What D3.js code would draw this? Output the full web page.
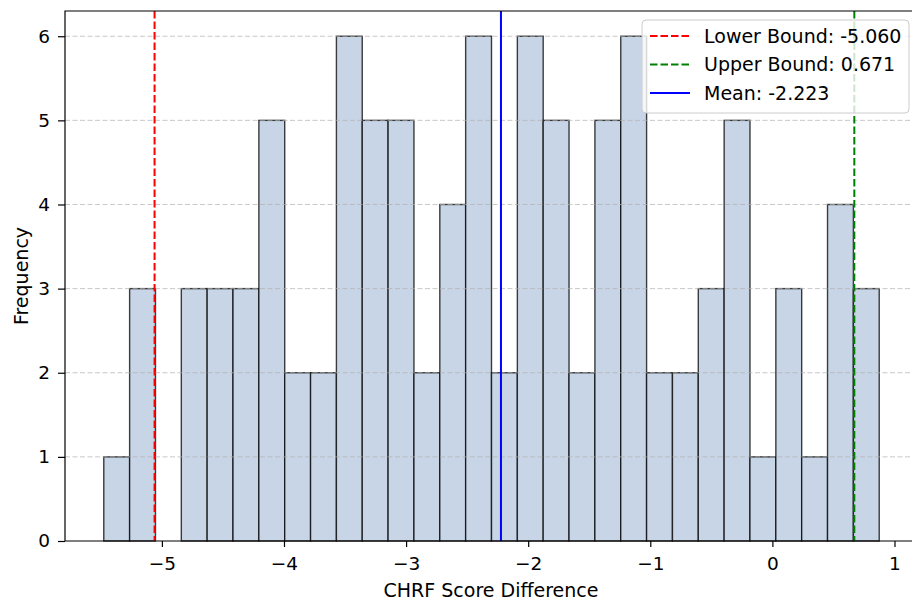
<!DOCTYPE html>
<html>
<head>
<meta charset="utf-8">
<script src="https://cdn.jsdelivr.net/npm/d3@7"></script>
<style>
  body { margin: 0; background: #fff; }
  svg { display: block; font-family: "DejaVu Sans", sans-serif; }
</style>
</head>
<body>
<svg id="chart" width="912" height="601"></svg>
<script>
// histogram of CHRF score differences, 30 bins
let binStart = -5.476;
let binWidth = 0.2117;
let counts = [1, 3, 0, 3, 3, 3, 5, 2, 2, 6, 5, 5, 2, 4, 6, 2, 6, 5, 2, 5, 6, 2, 2, 3, 5, 1, 3, 1, 4, 3];
let xTicks = [-5, -4, -3, -2, -1, 0, 1];
let yTicks = [0, 1, 2, 3, 4, 5, 6];
let refNames = ["Lower Bound: -5.060", "Upper Bound: 0.671", "Mean: -2.223"];
let refValues = [-5.060, 0.671, -2.223];
let refColors = ["red", "green", "blue"];
let refDashed = [true, true, false];

function drawHistogram() {
    let svg = d3.select("#chart");
    let left = 65, top = 11, right = 918, bottom = 541;
    let fontSize = 18.5;

    let bins = counts.map(function (c, i) {
        return {x0: binStart + i * binWidth, x1: binStart + (i + 1) * binWidth, n: c};
    });
    let lo = bins[0].x0, hi = bins[bins.length - 1].x1;
    let pad = (hi - lo) * 0.05;
    let x = d3.scaleLinear().domain([lo - pad, hi + pad]).range([left, right]);
    let y = d3.scaleLinear().domain([0, 6.3]).range([bottom, top]);

    let plot = svg.append("g");

    plot.selectAll("rect.bar").data(bins.filter(d => d.n > 0))
        .enter().append("rect")
        .attr("class", "bar")
        .attr("x", d => x(d.x0))
        .attr("y", d => y(d.n))
        .attr("width", d => x(d.x1) - x(d.x0))
        .attr("height", d => y(0) - y(d.n))
        .attr("fill", "#c8d5e7")
        .attr("stroke", "#000")
        .attr("stroke-opacity", 0.75)
        .attr("stroke-width", 1.4);

    // y grid, dashed, on top of bars
    plot.selectAll("line.grid").data(yTicks.slice(1))
        .enter().append("line")
        .attr("class", "grid")
        .attr("x1", left).attr("x2", right)
        .attr("y1", d => y(d)).attr("y2", d => y(d))
        .attr("stroke", "#b0b0b0")
        .attr("stroke-opacity", 0.7)
        .attr("stroke-width", 1)
        .attr("stroke-dasharray", "5,2.5");

    // reference lines
    refValues.forEach(function (v, i) {
        plot.append("line")
            .attr("x1", x(v)).attr("x2", x(v))
            .attr("y1", top).attr("y2", bottom)
            .attr("stroke", refColors[i])
            .attr("stroke-width", 2)
            .attr("stroke-dasharray", refDashed[i] ? "7.5,3" : null);
    });

    // axes
    let xAxis = d3.axisBottom(x).tickValues(xTicks).tickSize(6).tickPadding(10)
        .tickFormat(d => d < 0 ? "\u2212" + Math.abs(d) : d);
    let gx = svg.append("g").attr("transform", "translate(0," + bottom + ")").call(xAxis);
    let yAxis = d3.axisLeft(y).tickValues(yTicks).tickSize(7).tickPadding(8)
        .tickFormat(d3.format("d"));
    let gy = svg.append("g").attr("transform", "translate(" + left + ",0)").call(yAxis);
    [gx, gy].forEach(function (g) {
        g.attr("font-size", fontSize).attr("font-family", "DejaVu Sans");
        g.select(".domain").remove();
        g.selectAll("text").attr("fill", "#000");
        g.selectAll("line").attr("stroke", "#000").attr("stroke-width", 1.2);
    });

    // spines (right one falls off the canvas)
    svg.append("path")
        .attr("d", "M" + right + "," + top + "H" + left + "V" + bottom + "H" + right)
        .attr("fill", "none").attr("stroke", "#000").attr("stroke-width", 1.2);

    svg.append("text")
        .attr("x", 491).attr("y", 597)
        .attr("text-anchor", "middle").attr("font-size", 19)
        .text("CHRF Score Difference");
    svg.append("text")
        .attr("transform", "translate(28,276) rotate(-90)")
        .attr("text-anchor", "middle").attr("font-size", 19)
        .text("Frequency");

    // legend
    let lg = svg.append("g").attr("transform", "translate(642,20)");
    lg.append("rect")
        .attr("width", 267).attr("height", 93).attr("rx", 4)
        .attr("fill", "#fff").attr("fill-opacity", 0.8)
        .attr("stroke", "#ccc");
    refNames.forEach(function (name, i) {
        let yy = 16 + i * 28.5;
        lg.append("line")
            .attr("x1", 8).attr("x2", 48).attr("y1", yy).attr("y2", yy)
            .attr("stroke", refColors[i]).attr("stroke-width", 2)
            .attr("stroke-dasharray", refDashed[i] ? "7.5,3" : null);
        lg.append("text")
            .attr("x", 62).attr("y", yy + 6.5)
            .attr("font-size", 19)
            .text(name);
    });
}

drawHistogram();
</script>
</body>
</html>
